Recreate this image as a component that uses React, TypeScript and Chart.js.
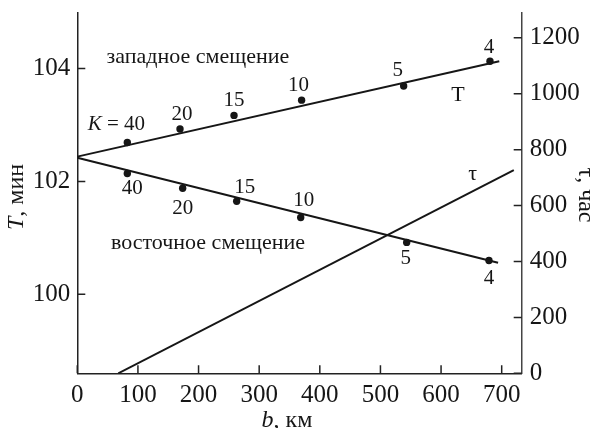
import { useEffect, useRef } from "react";
import { Chart, registerables } from "chart.js";

Chart.register(...registerables);

// ---- data ----
const X_TICKS = [0, 100, 200, 300, 400, 500, 600, 700];
const T_TICKS = [100, 102, 104];
const TAU_TICKS = [0, 200, 400, 600, 800, 1000, 1200];

const K_VALUES = ["40", "20", "15", "10", "5", "4"];

const WEST_B = [82.5, 169.4, 258.5, 370, 538.3, 680.7];
const WEST_T = [102.69, 102.93, 103.17, 103.44, 103.69, 104.13];
const EAST_B = [82.5, 173.8, 262.9, 368.5, 543.3, 679];
const EAST_T = [102.14, 101.88, 101.65, 101.36, 100.92, 100.6];

const WEST_FIT_B = [0, 696];
const WEST_FIT_T = [102.44, 104.13];
const EAST_FIT_B = [0, 694];
const EAST_FIT_T = [102.42, 100.56];
const TAU_B = [67.6, 720];
const TAU_H = [0, 727];

// label offsets (px) relative to each point
const WEST_LABEL_OFF = [
  [-11, -18],
  [2, -14],
  [0, -15],
  [-3, -15],
  [-6, -16],
  [-1, -14],
];
const EAST_LABEL_OFF = [
  [5, 15],
  [0, 20],
  [8, -14],
  [3, -17],
  [-1, 16],
  [0, 18],
];

const SERIF = '"Liberation Serif", "DejaVu Serif", serif';
const INK = "#161616";

type Part = { t: string; i?: boolean };

function drawMixed(ctx: CanvasRenderingContext2D, parts: Part[], cx: number, cy: number, size: number) {
  const fonts = parts.map((p) => `${p.i ? "italic " : ""}${size}px ${SERIF}`);
  let total = 0;
  const widths = parts.map((p, k) => {
    ctx.font = fonts[k];
    const w = ctx.measureText(p.t).width;
    total += w;
    return w;
  });
  let x = cx - total / 2;
  ctx.textAlign = "left";
  ctx.textBaseline = "middle";
  parts.forEach((p, k) => {
    ctx.font = fonts[k];
    ctx.fillText(p.t, x, cy);
    x += widths[k];
  });
}

const decorPlugin = {
  id: "decor",
  afterDraw(chart: any) {
    const ctx: CanvasRenderingContext2D = chart.ctx;
    const { x, y, y2 } = chart.scales;
    const a = chart.chartArea;
    ctx.save();
    // inward ticks
    ctx.strokeStyle = "#222";
    ctx.lineWidth = 1.5;
    const TL = 8;
    ctx.beginPath();
    X_TICKS.forEach((v) => {
      const px = x.getPixelForValue(v);
      ctx.moveTo(px, a.bottom);
      ctx.lineTo(px, a.bottom - TL);
    });
    T_TICKS.forEach((v) => {
      const py = y.getPixelForValue(v);
      ctx.moveTo(a.left, py);
      ctx.lineTo(a.left + TL, py);
    });
    TAU_TICKS.forEach((v) => {
      const py = y2.getPixelForValue(v);
      ctx.moveTo(a.right, py);
      ctx.lineTo(a.right - TL, py);
    });
    ctx.stroke();

    ctx.fillStyle = INK;
    const NS = 21;
    // point labels
    WEST_B.forEach((b, k) => {
      const px = x.getPixelForValue(b) + WEST_LABEL_OFF[k][0];
      const py = y.getPixelForValue(WEST_T[k]) + WEST_LABEL_OFF[k][1];
      if (k === 0) {
        drawMixed(ctx, [{ t: "K", i: true }, { t: " = " + K_VALUES[k] }], px, py, NS);
      } else {
        drawMixed(ctx, [{ t: K_VALUES[k] }], px, py, NS);
      }
    });
    EAST_B.forEach((b, k) => {
      const px = x.getPixelForValue(b) + EAST_LABEL_OFF[k][0];
      const py = y.getPixelForValue(EAST_T[k]) + EAST_LABEL_OFF[k][1];
      drawMixed(ctx, [{ t: K_VALUES[k] }], px, py, NS);
    });

    // region labels
    drawMixed(ctx, [{ t: "западное смещение" }], x.getPixelForValue(199), y.getPixelForValue(104.2), 22);
    drawMixed(ctx, [{ t: "восточное смещение" }], x.getPixelForValue(215.6), y.getPixelForValue(100.9), 22);
    drawMixed(ctx, [{ t: "T" }], x.getPixelForValue(628), y.getPixelForValue(103.53), 22);
    drawMixed(ctx, [{ t: "τ" }], x.getPixelForValue(652), y2.getPixelForValue(713), 22);

    // axis titles
    drawMixed(ctx, [{ t: "b", i: true }, { t: ", км" }], 287, 420.5, 24);
    ctx.save();
    ctx.translate(17, 197);
    ctx.rotate(-Math.PI / 2);
    drawMixed(ctx, [{ t: "T", i: true }, { t: ", мин" }], 0, 0, 24);
    ctx.restore();
    ctx.save();
    ctx.translate(585, 195);
    ctx.rotate(Math.PI / 2);
    drawMixed(ctx, [{ t: "τ, час" }], 0, 0, 24);
    ctx.restore();

    ctx.restore();
  },
};

const zip = (xs: number[], ys: number[]) => xs.map((v, k) => ({ x: v, y: ys[k] }));

export default function App() {
  const ref = useRef<HTMLCanvasElement | null>(null);
  useEffect(() => {
    if (!ref.current) return;
    const tickFont = { family: SERIF, size: 25 };
    const fmt = (v: any) => String(v);
    const lineDs = (data: any[], axis: string) => ({
      type: "line" as const,
      data,
      yAxisID: axis,
      borderColor: INK,
      borderWidth: 2,
      pointRadius: 0,
      showLine: true,
      fill: false,
    });
    const pointDs = (data: any[]) => ({
      type: "scatter" as const,
      data,
      yAxisID: "y",
      backgroundColor: INK,
      borderColor: INK,
      pointRadius: 3.7,
      pointBorderWidth: 0,
    });
    const chart = new Chart(ref.current, {
      type: "scatter",
      data: {
        datasets: [
          lineDs(zip(WEST_FIT_B, WEST_FIT_T), "y"),
          lineDs(zip(EAST_FIT_B, EAST_FIT_T), "y"),
          lineDs(zip(TAU_B, TAU_H), "y2"),
          pointDs(zip(WEST_B, WEST_T)),
          pointDs(zip(EAST_B, EAST_T)),
        ] as any,
      },
      options: {
        responsive: false,
        devicePixelRatio: 1,
        animation: false,
        layout: { padding: { top: 12.7, left: 0, right: 0, bottom: 0 } },
        plugins: { legend: { display: false }, tooltip: { enabled: false } },
        scales: {
          x: {
            type: "linear",
            position: "bottom",
            min: 0,
            max: 733,
            grid: { display: false, drawTicks: false },
            border: { display: true, color: "#222", width: 1.5 },
            ticks: { font: tickFont, color: INK, padding: 7, maxRotation: 0, callback: fmt },
            afterBuildTicks: (s: any) => {
              s.ticks = X_TICKS.map((v) => ({ value: v }));
            },
            afterFit: (s: any) => {
              s.height = 54.7;
              s.paddingLeft = 0;
              s.paddingRight = 0;
            },
          },
          y: {
            type: "linear",
            position: "left",
            min: 98.6,
            max: 104.99,
            grid: { display: false, drawTicks: false },
            border: { display: true, color: "#222", width: 1.5 },
            ticks: { font: tickFont, color: INK, padding: 7, callback: fmt },
            afterBuildTicks: (s: any) => {
              s.ticks = T_TICKS.map((v) => ({ value: v }));
            },
            afterFit: (s: any) => {
              s.width = 77.3;
              s.paddingTop = 0;
              s.paddingBottom = 0;
            },
          },
          y2: {
            type: "linear",
            position: "right",
            min: 0,
            max: 1290,
            grid: { display: false, drawTicks: false },
            border: { display: true, color: "#444", width: 1.5 },
            ticks: { font: tickFont, color: INK, padding: 8, callback: fmt },
            afterBuildTicks: (s: any) => {
              s.ticks = TAU_TICKS.map((v) => ({ value: v }));
            },
            afterFit: (s: any) => {
              s.width = 69.3;
              s.paddingTop = 0;
              s.paddingBottom = 0;
            },
          },
        },
      } as any,
      plugins: [decorPlugin],
    });
    return () => chart.destroy();
  }, []);
  return (
    <div style={{ position: "fixed", left: 0, top: 0, width: 591, height: 428, background: "#fff" }}>
      <canvas ref={ref} width={591} height={428} style={{ display: "block" }} />
    </div>
  );
}
